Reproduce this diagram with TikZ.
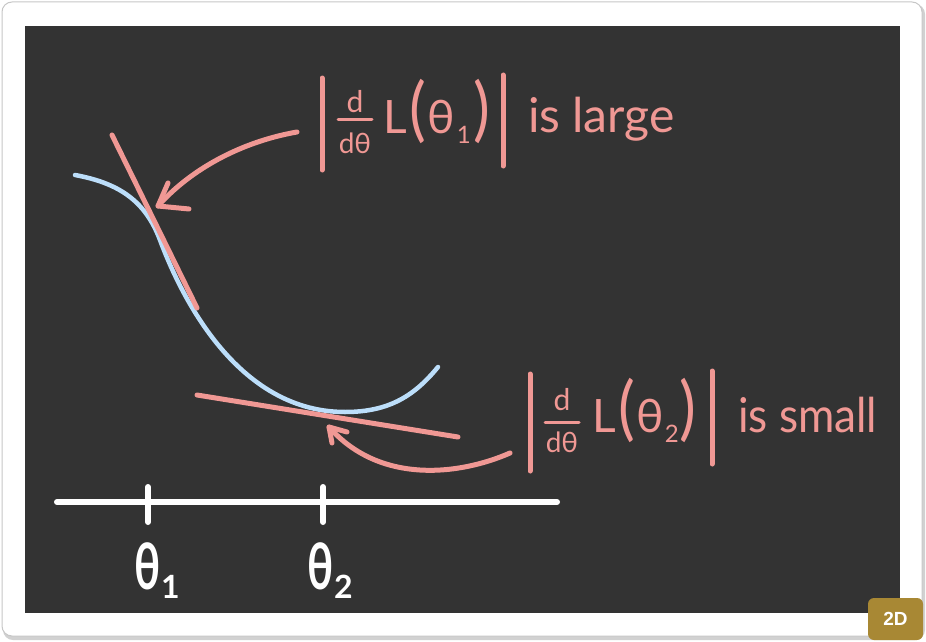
\documentclass[tikz,border=0pt]{standalone}
\usepackage{fontspec}
\usepackage{graphicx}
\setmainfont{Lato}
\newfontfamily\badgefont{Liberation Sans}
\definecolor{bgdark}{RGB}{51,51,51}
\definecolor{pinkc}{RGB}{240,152,148}
\definecolor{bluec}{RGB}{188,222,250}
\definecolor{goldc}{RGB}{168,136,52}
\newcommand{\bigpar}[1]{{\fontsize{70}{70}\selectfont\scalebox{0.9}[1]{#1}}}
\newcommand{\pinksub}[1]{\raisebox{-10pt}{\fontsize{24}{24}\selectfont #1}}
\newcommand{\whitesub}[1]{\raisebox{-9pt}{\fontsize{32}{32}\selectfont\bfseries #1}}
\begin{document}
\begin{tikzpicture}[x=1pt,y=-1pt,
  pinkline/.style={draw=pinkc, line width=5pt, line cap=round, line join=round},
  pinktxt/.style={text=pinkc, inner sep=0pt, outer sep=0pt},
  whitetxt/.style={text=white, inner sep=0pt, outer sep=0pt},
  axisline/.style={draw=white, line width=6pt, line cap=round}]
\useasboundingbox (0,0) rectangle (926,642);
% frame
\fill[black!18, rounded corners=10pt] (3,4) rectangle (925,640);
\filldraw[fill=white, draw=black!22, line width=1pt, rounded corners=10pt] (2,2) rectangle (922,636);
\fill[bgdark] (25,26) rectangle (900,613);
% blue curve
\draw[bluec, line width=4.5pt, line cap=round]
  (75,175) .. controls (118,183) and (145,200) .. (160,240)
  .. controls (175,280) and (230,412) .. (345,412)
  .. controls (390,412) and (415,395) .. (438,367);
% tangent lines
\coordinate (t1a) at (112,135); \coordinate (t1b) at (197,308);
\coordinate (t2a) at (197,395); \coordinate (t2b) at (458,437);
\draw[pinkline] (t1a) -- (t1b);
\draw[pinkline] (t2a) -- (t2b);
% arrows
\coordinate (a1s) at (297,132); \coordinate (a1t) at (158,206);
\draw[pinkline] (a1s) .. controls (240,142) and (190,170) .. (a1t);
\draw[pinkline] (168,183) -- (a1t) -- (189,209);
\coordinate (a2s) at (510,453); \coordinate (a2t) at (329,427);
\draw[pinkline] (a2s) .. controls (460,475) and (380,485) .. (a2t);
\draw[pinkline] (332,443) -- (a2t) -- (347,432);
% axis
\coordinate (axl) at (57,502); \coordinate (axr) at (557,502);
\draw[axisline] (axl) -- (axr);
\draw[axisline] (148,487) -- (148,522);
\draw[axisline] (323,487) -- (323,522);
\node[whitetxt, anchor=base west] (th1) at (134,589) {\fontsize{64}{64}\selectfont\bfseries\scalebox{0.68}[1]{θ}\hspace{1pt}\whitesub{1}};
\node[whitetxt, anchor=base west] (th2) at (307,589) {\fontsize{64}{64}\selectfont\bfseries\scalebox{0.68}[1]{θ}\hspace{1pt}\whitesub{2}};
% label 1
\draw[pinkline] (322,78) -- (322,170);
\draw[pinkline] (503,75) -- (503,166);
\node[pinktxt] (n1) at (355,102) {\fontsize{30}{30}\selectfont d};
\draw[pinkc, line width=3pt, line cap=round] (338,119) -- (372,119);
\node[pinktxt] (d1) at (355,143) {\fontsize{28}{28}\selectfont dθ};
\node[pinktxt, anchor=base west] (L1) at (383,133) {\fontsize{46}{46}\selectfont L\hspace{3pt}\bigpar{(}\hspace{1pt}θ\hspace{2pt}\pinksub{1}\hspace{3pt}\bigpar{)}};
\node[pinktxt, anchor=base west] (w1) at (528,132) {\fontsize{48}{48}\selectfont is large};
% label 2
\draw[pinkline] (530,374) -- (530,471);
\draw[pinkline] (712,371) -- (712,464);
\node[pinktxt] (n2) at (562,400) {\fontsize{30}{30}\selectfont d};
\draw[pinkc, line width=3pt, line cap=round] (545,422) -- (579,422);
\node[pinktxt] (d2) at (562,442) {\fontsize{28}{28}\selectfont dθ};
\node[pinktxt, anchor=base west] (L2) at (592,432) {\fontsize{46}{46}\selectfont L\hspace{3pt}\bigpar{(}\hspace{1pt}θ\hspace{1pt}\pinksub{2}\hspace{1pt}\bigpar{)}};
\node[pinktxt, anchor=base west] (w2) at (738,432) {\fontsize{48}{48}\selectfont\scalebox{0.92}[1]{is small}};
% badge
\fill[goldc, rounded corners=6pt] (868,598) rectangle (923,640);
\node[whitetxt] (badge) at (895.5,619) {\badgefont\bfseries\fontsize{19}{19}\selectfont 2D};
\end{tikzpicture}
\end{document}
